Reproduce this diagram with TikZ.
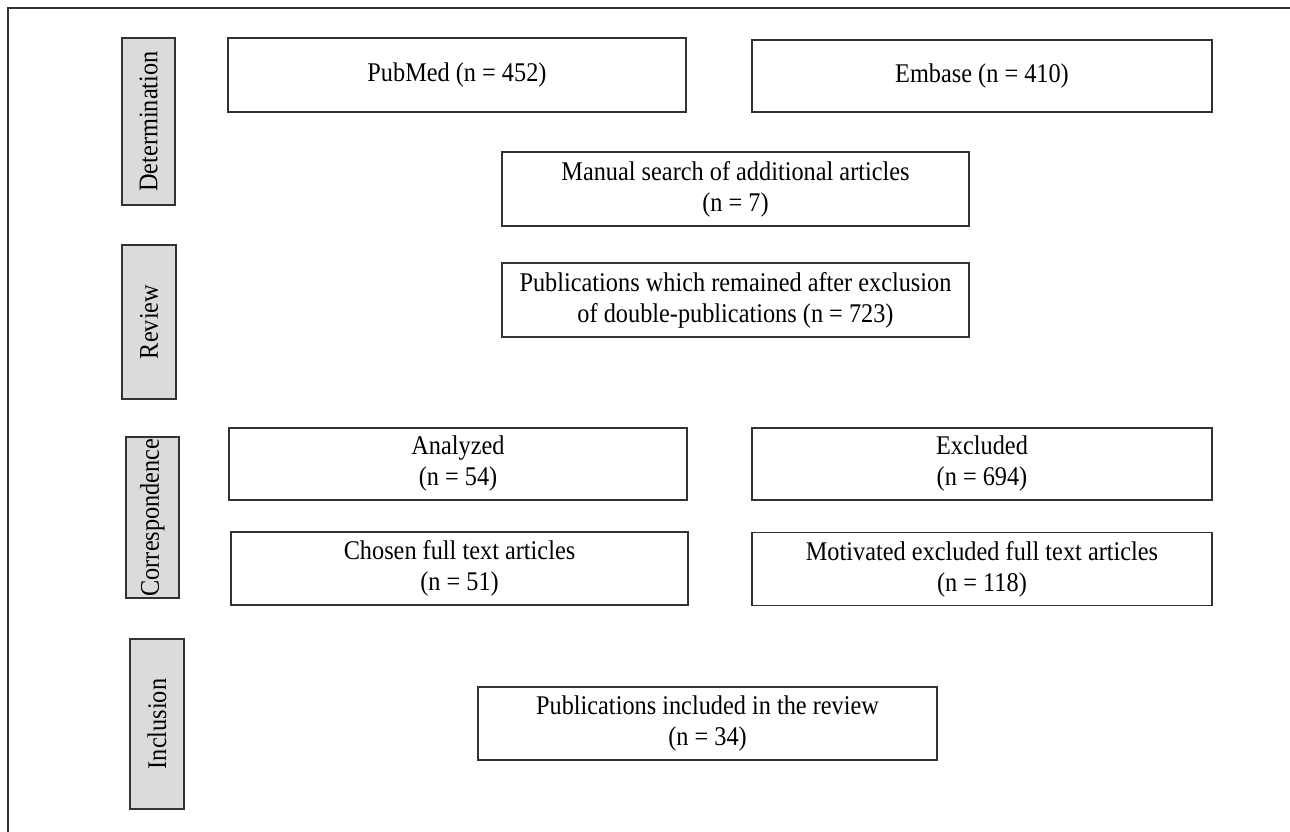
\documentclass[tikz,border=0pt]{standalone}
\usepackage{fontspec}
\setmainfont{Liberation Serif}[FakeStretch=0.9]
\usepackage{xcolor}
\usepackage{tikz}
\usetikzlibrary{positioning}

\definecolor{stagegray}{RGB}{219,219,221}
\definecolor{linegray}{RGB}{50,50,50}

\tikzset{
  box/.style={draw=linegray, line width=1.4pt, align=center, inner sep=0pt,
    font=\fontsize{27}{31}\selectfont},
  stage/.style={draw=linegray, line width=1.4pt, fill=stagegray, rotate=90,
    inner sep=0pt, font=\fontsize{27}{31}\selectfont},
}

\begin{document}
\begin{tikzpicture}[x=1pt, y=-1pt]
  \useasboundingbox (0,0) rectangle (1290,832);

  % Frame (top and left only)
  \draw[linegray, line width=1.4pt] (1290,8) -- (8,8) -- (8,832);

  % Stage labels
  \node[stage, minimum width=167, minimum height=53] (determination) at (148.5,121.5) {Determination};
  \node[stage, minimum width=154, minimum height=54] (review) at (149,322) {Review};
  \node[stage, minimum width=161, minimum height=53] (correspondence) at (152.5,517.5) {Correspondence};
  \node[stage, minimum width=170, minimum height=54] (inclusion) at (157,724) {Inclusion};

  % Determination
  \node[box, minimum width=458, minimum height=74] (pubmed) at (457,75) {PubMed (n = 452)};
  \node[box, minimum width=460, minimum height=72] (embase) at (982,76) {Embase (n = 410)};
  \node[box, minimum width=467, minimum height=74] (manual) at (735.5,189)
    {Manual search of additional articles\\(n = 7)};

  % Review
  \node[box, minimum width=467, minimum height=74] (remained) at (735.5,300)
    {Publications which remained after exclusion\\of double-publications (n = 723)};

  % Correspondence
  \node[box, minimum width=458, minimum height=72] (analyzed) at (458,464) {Analyzed\\(n = 54)};
  \node[box, minimum width=460, minimum height=72] (excluded) at (982,464) {Excluded\\(n = 694)};
  \node[box, minimum width=457, minimum height=73] (chosen) at (459.5,568.5)
    {Chosen full text articles\\(n = 51)};
  \node[box, minimum width=460, minimum height=73] (motivated) at (982,569)
    {Motivated excluded full text articles\\(n = 118)};

  % Inclusion
  \node[box, minimum width=459, minimum height=73] (included) at (707.5,723.5)
    {Publications included in the review\\(n = 34)};
\end{tikzpicture}
\end{document}
